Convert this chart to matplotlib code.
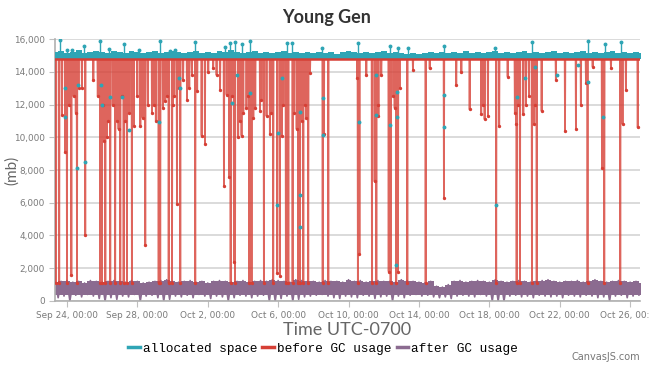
import numpy as np
import matplotlib
matplotlib.use("Agg")
import matplotlib.pyplot as plt
from matplotlib.lines import Line2D
from matplotlib.ticker import FuncFormatter

# time is in days from Sep 24, 00:00 (UTC-0700)
tick_days = [0, 4, 8, 12, 16, 20, 24, 28, 32]
tick_labels = ["Sep 24, 00:00", "Sep 28, 00:00", "Oct 2, 00:00", "Oct 6, 00:00",
               "Oct 10, 00:00", "Oct 14, 00:00", "Oct 18, 00:00", "Oct 22, 00:00",
               "Oct 26, 00:00"]

# 8-hour bins starting Sep 23, 08:00
bin_start = -2 / 3
bin_hours = 8

# after GC usage: upper / lower envelope per bin (mb)
after_hi = [1150, 1200, 1250, 1150, 1200, 1100, 1250, 1200, 1150, 1200, 1250,
            1200, 1150, 1250, 1200, 1100, 1150, 1200, 1250, 1300, 1200, 1150,
            1200, 1250, 1150, 1200, 1100, 1200, 1250, 1200, 1150, 1200, 1250,
            1150, 1200, 1250, 1200, 1300, 1250, 1200, 1150, 1300, 1250, 1200,
            1200, 1150, 1250, 1200, 1200, 1150, 1300, 1200, 1250, 1150, 1200,
            1250, 1200, 1200, 1150, 1300, 1250, 1200, 1150, 1100, 1200, 900,
            850, 1000, 1200, 1250, 1150, 1200, 1250, 1200, 1150, 1300, 1200,
            1150, 1200, 1250, 1200, 1150, 1200, 1250, 1300, 1200, 1150, 1200,
            1200, 1250, 1150, 1200, 1300, 1200, 1150, 1200, 1250, 1200, 1150, 1200, 1100]
after_lo = [200, 300, 0, 350, 250, 400, 300, 150, 0, 200, 100,
            300, 250, 400, 0, 300, 350, 200, 0, 100, 300, 250,
            350, 200, 400, 300, 150, 300, 250, 0, 200, 350, 300,
            200, 300, 350, 0, 0, 150, 300, 0, 100, 250, 300,
            350, 400, 300, 200, 150, 300, 250, 200, 350, 300, 150,
            250, 300, 0, 300, 200, 350, 400, 300, 350, 250, 200,
            250, 150, 300, 350, 300, 250, 400, 300, 0, 0, 0,
            300, 350, 250, 300, 200, 350, 300, 250, 300, 200, 350,
            300, 250, 350, 300, 200, 250, 0, 300, 350, 200, 300, 350, 400]
after_body = 380  # lower edge of the solid part of the band

# allocated space: top of the band per bin, isolated spikes, and stray points
alloc_hi = [15200, 15250, 15150, 15200, 15300, 15150, 15200, 15250, 15200, 15150, 15250,
            15200, 15150, 15250, 15200, 15150, 15200, 15250, 15150, 15200, 15250, 15200,
            15150, 15200, 15250, 15150, 15200, 15150, 15250, 15200, 15300, 15200, 15150,
            15200, 15250, 15150, 15200, 15150, 15200, 15250, 15150, 15200, 15150, 15200,
            15150, 15200, 15150, 15200, 15100, 15200, 15250, 15200, 15150, 15200, 15150,
            15200, 15250, 15150, 15200, 15150, 15100, 15150, 15100, 15150, 15200, 15150,
            15200, 15150, 15200, 15150, 15250, 15150, 15200, 15150, 15200, 15250, 15150,
            15200, 15150, 15200, 15250, 15150, 15200, 15150, 15200, 15250, 15150, 15200,
            15150, 15200, 15250, 15150, 15200, 15150, 15200, 15250, 15150, 15200, 15150, 15200, 15150]
alloc_base = 14800
spike_days = [-0.38, 0.0, 0.28, 0.99, 1.89, 2.4, 3.22, 4.07, 5.30, 5.87, 6.16, 7.29,
              8.98, 9.26, 9.55, 9.92, 10.39, 12.48, 12.77, 14.47, 16.53, 18.33, 18.81,
              19.38, 21.45, 24.30, 26.42, 29.58, 30.59, 31.48]
spike_vals = [15950, 15300, 15300, 15600, 15900, 15400, 15700, 15300, 15900, 15250, 15300, 15800,
              15500, 15750, 15800, 15700, 15900, 15750, 15750, 15450, 15750, 15600, 15450,
              15450, 15550, 15450, 15800, 15850, 15700, 15800]
dot_days = [-0.10, 0.63, 0.57, -0.13, 1.95, 1.99, 2.46, 3.13, 3.50, 1.04, 5.21, 6.35, 6.44,
            9.36, 9.64, 10.40, 12.01, 12.20, 11.95, 13.24, 14.53, 14.53, 13.24, 13.24,
            16.57, 17.58, 17.58, 18.33, 18.77, 18.77, 18.71, 21.42, 21.42, 24.39,
            25.55, 26.04, 26.61, 27.82, 29.58, 30.44, 29.02]
dot_vals = [12990, 13190, 8100, 11260, 13190, 11970, 12480, 12480, 10440, 8510, 10950, 13600, 12990,
            12070, 13800, 12680, 10240, 13600, 5860, 11560, 12380, 10140, 6470, 4540,
            10950, 13800, 11360, 10750, 12780, 11260, 2200, 12580, 10640, 5860,
            12480, 13600, 14310, 13800, 13390, 11260, 14410]

# before GC usage: level between collections and the drops
before_level = 14780
drop_days = [-0.62, -0.44, -0.28, -0.10, 0.00, 0.25, 0.38, 0.57, 0.66, 0.85, 1.04,
             1.89, 1.99, 2.10, 2.18, 2.27, 2.46, 2.74, 2.85, 2.93, 3.03, 3.22, 3.30,
             3.41, 3.69, 3.80, 4.17, 4.30, 4.45, 4.83, 4.95, 5.21, 5.30, 5.45, 5.59,
             5.78, 5.97, 6.10, 6.25, 6.44, 6.60, 6.82, 7.10, 7.29, 7.40,
             7.65, 7.84, 8.03, 8.31, 8.70, 8.92, 9.07, 9.22, 9.30, 9.49, 9.55, 9.73,
             9.92, 10.02, 10.20, 10.36, 10.49, 10.59, 10.97, 11.19, 11.34, 11.53, 11.72,
             11.95, 12.10, 12.20, 12.44, 12.58, 12.82, 13.05, 13.14, 13.24, 13.43, 13.60,
             13.71, 13.81, 14.53, 14.60, 14.85,
             16.50, 16.53, 16.62, 17.01, 17.33, 17.48, 17.58, 17.70, 17.86, 18.28, 18.39,
             18.62, 18.71, 18.81, 19.34, 19.66, 20.38, 20.61, 21.42, 22.12, 22.41, 22.88,
             23.54, 23.73, 23.92, 24.39,
             24.56, 25.04, 25.51, 25.55, 25.74, 25.93, 26.08, 26.42, 26.55, 26.69, 26.97,
             27.78, 28.30, 28.92, 29.20, 29.49, 29.58, 29.87, 30.40, 30.53, 30.91, 31.44,
             31.57, 31.76, 32.43]
drop_vals = [1100, 1100, 11350, 9100, 1100, 1600, 12500, 1100, 13000, 13000, 4000,
             1100, 1100, 9800, 1100, 10000, 1100, 1100, 11000, 10500, 1100, 1100, 11000,
             1100, 1100, 10700, 10700, 11200, 3400, 11500, 12000, 1100, 1100, 11800, 12200,
             1100, 1100, 12500, 5900, 1100, 13500, 12300, 13800, 1100, 12800,
             10100, 9600, 14000, 14200, 12900, 7000, 12600, 7600, 1100, 2400, 1100, 10000,
             10100, 11500, 11800, 1100, 1100, 11200, 11600, 1100, 11300, 10200, 1100,
             1700, 1500, 10100, 1100, 1100, 1100, 10500, 1100, 1100, 1100, 11200,
             1100, 13900, 1100, 10200, 1100,
             13600, 1100, 2900, 13800, 1100, 7300, 1100, 11300, 13800, 1800, 1100,
             11800, 1100, 1800, 1100, 14100, 1100, 14200, 6300, 13200, 14000, 11700,
             11400, 11100, 11300, 1100,
             10700, 13700, 10800, 1100, 1100, 11400, 12000, 1100, 10800, 1100, 11600,
             13500, 10400, 10500, 12000, 13300, 1100, 14300, 8100, 1100, 14200, 1100,
             10800, 12900, 10600]
# shallower collections inside the busy stretches
minor_days = [0.10, 0.50, 1.50, 1.75, 2.05, 2.35, 2.60, 3.10, 3.55, 4.00, 4.60, 5.05,
              5.70, 6.00, 6.35, 6.95, 8.50, 9.40, 9.85, 10.30, 10.70, 11.05, 11.60,
              12.30, 12.90, 13.35, 13.55, 17.65, 18.55, 18.90, 23.65, 25.45, 25.65,
              26.25, 26.60]
minor_vals = [12000, 11500, 13500, 12500, 12000, 11000, 12000, 12500, 11500, 12500, 12000, 11000,
              12500, 12000, 13000, 13000, 13800, 12500, 11000, 12500, 11800, 12300, 11500,
              12000, 11500, 11000, 12000, 12000, 12500, 13000, 12000, 11500, 12000,
              12500, 12000]

c_alloc = "#2fa5b5"
c_before = "#d63f35"
c_after = "#8b6b90"

fig = plt.figure(figsize=(6.5, 3.74), dpi=100)
ax = fig.add_axes([0.0846, 0.1952, 0.90, 0.7005])

day0, day1 = -0.68, 32.56
bins = bin_start + np.arange(len(after_hi)) * bin_hours / 24
half = bin_hours / 48
zx = np.column_stack([bins, bins + half]).ravel()

# after GC usage - solid body plus zigzag down to the lower envelope
ax.fill_between(bins, after_body, after_hi, step="mid", color=c_after, lw=0, zorder=2)
zy = np.column_stack([after_hi, after_lo]).ravel()
ax.plot(zx, zy, color=c_after, lw=1.2, zorder=2)

# before GC usage
eps = 0.018
bx = [day0]
by = [before_level]
for d, v in sorted(zip(drop_days + minor_days, drop_vals + minor_vals)):
    bx += [d - eps, d, d + eps]
    by += [before_level, v, before_level]
bx.append(day1)
by.append(before_level)
ax.plot(bx, by, color=c_before, lw=1.3, alpha=0.8, zorder=3)
ax.plot(drop_days + minor_days, drop_vals + minor_vals, ls="none", marker="o", ms=1.4,
        color=c_before, zorder=3)

# allocated space
ax.fill_between(bins, alloc_base, alloc_hi, step="mid", color=c_alloc, lw=0, zorder=4)
ax.vlines(spike_days, alloc_base, spike_vals, color=c_alloc, lw=1.0, zorder=4)
ax.plot(spike_days, spike_vals, ls="none", marker="o", ms=1.8, color=c_alloc, zorder=4)
ax.plot(dot_days, dot_vals, ls="none", marker="o", ms=1.8, color=c_alloc, zorder=4)
ax.plot([day0, day1], [before_level, before_level], color=c_before, lw=1.8, zorder=5)

ax.set_xlim(day0, day1)
ax.set_ylim(0, 16000)
ax.set_yticks(range(0, 16001, 2000))
ax.yaxis.set_major_formatter(FuncFormatter(lambda v, p: f"{int(v):,}"))
ax.set_xticks(tick_days)
ax.set_xticklabels(tick_labels)
ax.grid(axis="y", color="#d4d4d4", lw=1.2)
ax.set_axisbelow(True)
for s in ["top", "right"]:
    ax.spines[s].set_visible(False)
for s in ["left", "bottom"]:
    ax.spines[s].set_color("#b0b0b0")
    ax.spines[s].set_linewidth(1.2)
ax.tick_params(axis="both", colors="#c0c0c0", labelcolor="#7a7a7a", labelsize=6.4, length=4)

ax.set_ylabel("(mb)", fontsize=11, color="#666666", family="Lato")
ax.yaxis.set_label_coords(-0.062, 0.5)
ax.set_xlabel("Time UTC-0700", fontsize=13, color="#666666", labelpad=1, family="Lato")
fig.text(0.503, 0.953, "Young Gen", ha="center", va="center", fontsize=13,
         fontweight="bold", color="#333333", family="Lato")

handles = [Line2D([], [], color=c, lw=2.5) for c in (c_alloc, c_before, c_after)]
fig.legend(handles, ["allocated space", "before GC usage", "after GC usage"],
           loc="center", bbox_to_anchor=(0.497, 0.067), ncol=3, frameon=False,
           prop={"family": "Liberation Mono", "size": 9.2}, handlelength=0.9,
           handletextpad=0.25, columnspacing=0.4)
fig.text(0.985, 0.045, "CanvasJS.com", ha="right", va="center", fontsize=7, color="#777777")

fig.savefig("out.png", dpi=100)
